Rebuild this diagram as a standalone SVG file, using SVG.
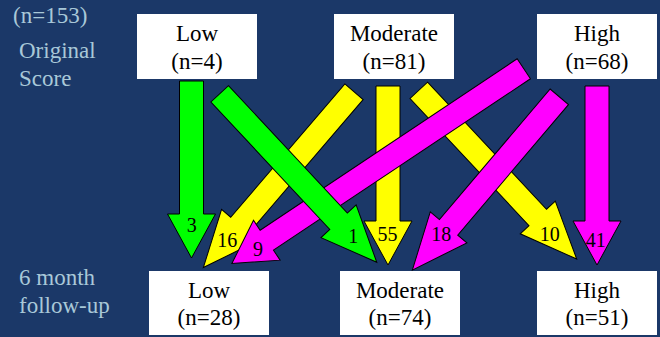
<svg xmlns="http://www.w3.org/2000/svg" width="660" height="337" viewBox="0 0 660 337">
  <style>
    .box { fill: #ffffff; }
    .boxtxt { font-size: 23px; fill: #000000; text-anchor: middle; }
    .side { font-size: 23px; fill: #a9c8d8; }
    .num { font-size: 20px; fill: #000000; text-anchor: middle; }
    .arrow { stroke: #000000; stroke-width: 1; stroke-linejoin: miter; }
    .green { fill: #00ff00; }
    .yellow { fill: #ffff00; }
    .magenta { fill: #ff00ff; }
  </style>

  <rect x="0" y="0" width="660" height="337" fill="#1b3868"/>

  <g font-family="Liberation Serif, Times New Roman, serif">
  <!-- side captions -->
  <g id="captions">
    <text class="side" x="13" y="23">(n=153)</text>
    <text class="side" x="19" y="58">Original</text>
    <text class="side" x="19" y="86">Score</text>
    <text class="side" x="19" y="285">6 month</text>
    <text class="side" x="19" y="313">follow-up</text>
  </g>

  <!-- original score nodes -->
  <g id="orig-low">
    <rect class="box" x="137" y="14" width="120" height="65"/>
    <text class="boxtxt" x="197" y="41">Low</text>
    <text class="boxtxt" x="197" y="69">(n=4)</text>
  </g>
  <g id="orig-moderate">
    <rect class="box" x="334" y="14" width="120" height="65"/>
    <text class="boxtxt" x="394" y="41">Moderate</text>
    <text class="boxtxt" x="394" y="69">(n=81)</text>
  </g>
  <g id="orig-high">
    <rect class="box" x="537" y="14" width="120" height="65"/>
    <text class="boxtxt" x="597" y="41">High</text>
    <text class="boxtxt" x="597" y="69">(n=68)</text>
  </g>

  <!-- follow-up nodes -->
  <g id="follow-low">
    <rect class="box" x="149" y="271" width="120" height="64"/>
    <text class="boxtxt" x="209" y="298">Low</text>
    <text class="boxtxt" x="209" y="325">(n=28)</text>
  </g>
  <g id="follow-moderate">
    <rect class="box" x="340" y="271" width="120" height="64"/>
    <text class="boxtxt" x="400" y="298">Moderate</text>
    <text class="boxtxt" x="400" y="325">(n=74)</text>
  </g>
  <g id="follow-high">
    <rect class="box" x="537" y="271" width="120" height="64"/>
    <text class="boxtxt" x="597" y="298">High</text>
    <text class="boxtxt" x="597" y="325">(n=51)</text>
  </g>

  <!-- transition arrows: yellow below magenta, green on top -->
  <g id="connectors">
    <!-- moderate -> moderate -->
    <polygon class="arrow yellow" points="376,86 400,86 400,221 412,221 388,265 364,221 376,221"/>
    <!-- moderate -> low -->
    <polygon class="arrow yellow" transform="translate(354,91.8) rotate(130.6)" points="0,-12 175.5,-12 175.5,-24 231.5,0 175.5,24 175.5,12 0,12"/>
    <!-- moderate -> high -->
    <polygon class="arrow yellow" transform="translate(418.8,90.3) rotate(46.9)" points="0,-12 174.1,-12 174.1,-24 231.1,0 174.1,24 174.1,12 0,12"/>

    <!-- high -> high -->
    <polygon class="arrow magenta" points="585,86 609,86 609,221 621,221 597,265 573,221 585,221"/>
    <!-- high -> moderate -->
    <polygon class="arrow magenta" transform="translate(559.3,96.8) rotate(130.3)" points="0,-12 171.2,-12 171.2,-24 227.2,0 171.2,24 171.2,12 0,12"/>
    <!-- high -> low -->
    <polygon class="arrow magenta" transform="translate(523.8,68.8) rotate(146.3)" points="0,-12 308.9,-12 308.9,-24 350.9,0 308.9,24 308.9,12 0,12"/>

    <!-- low -> low -->
    <polygon class="arrow green" points="179.5,81 203.5,81 203.5,214 215.5,214 191.5,258 167.5,214 179.5,214"/>
    <!-- low -> moderate -->
    <polygon class="arrow green" transform="translate(219.7,93.8) rotate(47)" points="0,-12 174.3,-12 174.3,-24 230.3,0 174.3,24 174.3,12 0,12"/>
  </g>

  <!-- transition counts -->
  <g id="counts">
    <text class="num" x="191.7" y="231.5">3</text>
    <text class="num" x="227.3" y="246.5">16</text>
    <text class="num" x="353.3" y="243">1</text>
    <text class="num" x="258" y="256">9</text>
    <text class="num" x="387.5" y="240.5">55</text>
    <text class="num" x="441.3" y="240.5">18</text>
    <text class="num" x="549.7" y="240.5">10</text>
    <text class="num" x="595.8" y="246.5">41</text>
  </g>
  </g>
</svg>
